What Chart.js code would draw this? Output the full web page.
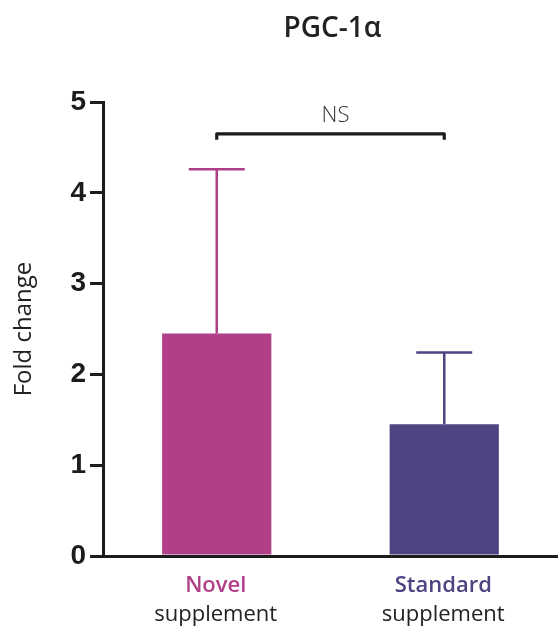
<!DOCTYPE html>
<html>
<head>
<meta charset="utf-8">
<script src="https://cdn.jsdelivr.net/npm/chart.js@4"></script>
<style>
  html, body { margin: 0; padding: 0; background: #fff; }
  canvas { display: block; }
</style>
</head>
<body>
<canvas id="barChart" width="558" height="631"></canvas>
<script>
// data
const categories = ['Novel', 'Standard'];
const subLabels = ['supplement', 'supplement'];
const means = [2.45, 1.45];
const sdUpper = [1.81, 0.79];
const yTicks = [0, 1, 2, 3, 4, 5];
const barColors = ['#B03F87', '#4F4382'];
const bracketY = 4.65;
const bracketText = 'NS';
const titleText = 'PGC-1α';

const ink = '#1c1c1c';

// error bars, significance bracket, title and two-line coloured x labels
const extras = {
    id: 'extras',
    afterDatasetsDraw(chart) {
        const ctx = chart.ctx;
        const x = chart.scales.x;
        const y = chart.scales.y;
        const meta = chart.getDatasetMeta(0);
        const area = chart.chartArea;

        ctx.save();
        meta.data.forEach((bar, i) => {
            const cx = bar.x;
            const top = y.getPixelForValue(means[i] + sdUpper[i]);
            const base = y.getPixelForValue(means[i]);
            ctx.strokeStyle = barColors[i];
            ctx.lineWidth = 2.5;
            ctx.beginPath();
            ctx.moveTo(cx, base);
            ctx.lineTo(cx, top);
            ctx.moveTo(cx - 28, top);
            ctx.lineTo(cx + 28, top);
            ctx.stroke();
        });

        // bracket
        const x0 = x.getPixelForTick(0);
        const x1 = x.getPixelForTick(1);
        const by = y.getPixelForValue(bracketY);
        ctx.strokeStyle = ink;
        ctx.lineWidth = 3.2;
        ctx.lineJoin = 'round';
        ctx.beginPath();
        ctx.moveTo(x0, by + 6);
        ctx.lineTo(x0, by);
        ctx.lineTo(x1, by);
        ctx.lineTo(x1, by + 6);
        ctx.stroke();

        ctx.fillStyle = '#333';
        ctx.font = '300 22px "Open Sans"';
        ctx.textAlign = 'center';
        ctx.textBaseline = 'middle';
        ctx.fillText(bracketText, (x0 + x1) / 2 + 5, by - 18);

        // title
        ctx.fillStyle = '#222';
        ctx.font = '600 28px "Open Sans"';
        ctx.textBaseline = 'alphabetic';
        ctx.fillText(titleText, (area.left + area.right) / 2 + 2, 37);

        // x labels
        ctx.textBaseline = 'middle';
        categories.forEach((c, i) => {
            const cx = x.getPixelForTick(i);
            ctx.fillStyle = barColors[i];
            ctx.font = '600 22px "Open Sans"';
            ctx.fillText(c, cx - 1, 586);
            ctx.fillStyle = '#222';
            ctx.font = '400 22px "Open Sans"';
            ctx.fillText(subLabels[i], cx - 1, 615);
        });
        ctx.restore();
    }
};

const ctx = document.getElementById('barChart');
new Chart(ctx, {
    type: 'bar',
    data: {
        labels: categories,
        datasets: [{
            data: means,
            backgroundColor: barColors,
            borderWidth: 0,
            categoryPercentage: 1,
            barPercentage: 0.48
        }]
    },
    options: {
        responsive: false,
        animation: false,
        layout: { padding: { left: 0, right: 0, top: 102, bottom: 0 } },
        plugins: {
            legend: { display: false },
            tooltip: { enabled: false },
            title: { display: false }
        },
        scales: {
            x: {
                grid: { display: false },
                border: { display: true, color: ink, width: 3 },
                ticks: { display: false },
                afterFit(scale) { scale.height = 75; }
            },
            y: {
                min: 0,
                max: 5,
                afterBuildTicks(scale) {
                    scale.ticks = yTicks.map(v => ({ value: v }));
                },
                afterFit(scale) { scale.width = 103; },
                grid: {
                    drawOnChartArea: false,
                    drawTicks: true,
                    tickLength: 13,
                    color: ink,
                    lineWidth: 3
                },
                border: { display: true, color: ink, width: 3 },
                ticks: {
                    color: ink,
                    padding: 4,
                    font: { family: 'Liberation Sans', size: 28, weight: 'bold' }
                },
                title: {
                    display: true,
                    text: 'Fold change',
                    color: '#222',
                    font: { family: 'Open Sans', size: 24 },
                    padding: { top: 10, bottom: 0 }
                }
            }
        }
    },
    plugins: [extras]
});
</script>
</body>
</html>
